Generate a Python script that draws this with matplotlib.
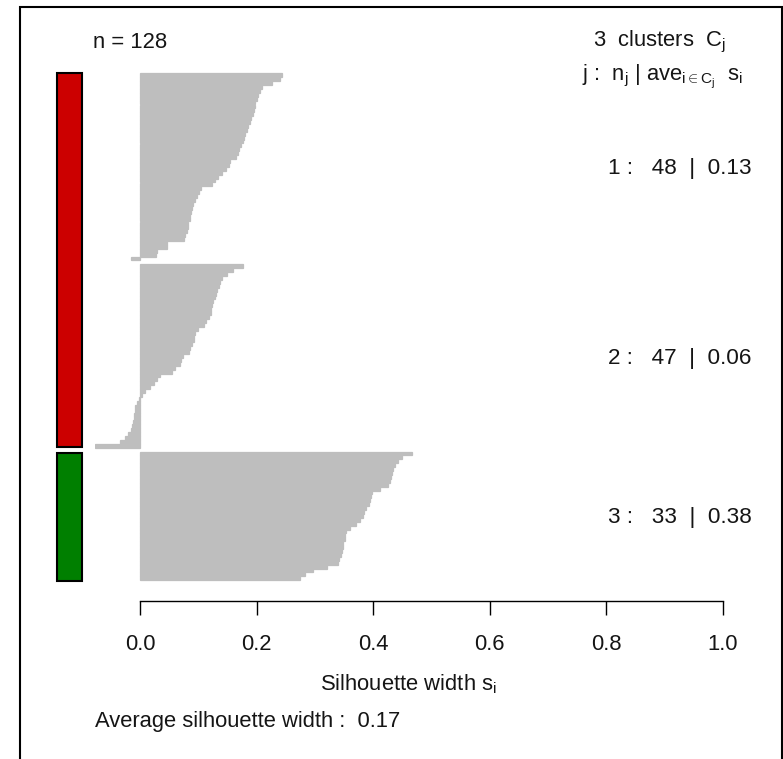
import numpy as np
import matplotlib
matplotlib.use("Agg")
import matplotlib.pyplot as plt
from matplotlib.patches import Rectangle
import matplotlib.transforms as mtransforms

plt.rcParams['font.family'] = ['Liberation Sans', 'DejaVu Sans']
plt.rcParams['mathtext.fontset'] = 'custom'
plt.rcParams['mathtext.rm'] = 'Liberation Sans'
plt.rcParams['mathtext.it'] = 'Liberation Sans:italic'
plt.rcParams['mathtext.bf'] = 'Liberation Sans:bold'

# ---------------- data ----------------
cluster_ids = [1, 2, 3]
sil_c1 = [0.243, 0.240, 0.226, 0.210, 0.205, 0.203, 0.200, 0.198, 0.197, 0.195,
          0.193, 0.190, 0.188, 0.186, 0.183, 0.180, 0.178, 0.176, 0.173, 0.170,
          0.168, 0.164, 0.155, 0.153, 0.148, 0.140, 0.134, 0.128, 0.124, 0.105,
          0.102, 0.097, 0.094, 0.091, 0.089, 0.088, 0.086, 0.085, 0.083, 0.082,
          0.080, 0.078, 0.075, 0.046, 0.046, 0.030, 0.028, -0.016]
sil_c2 = [0.177, 0.160, 0.149, 0.140, 0.137, 0.135, 0.132, 0.130, 0.128, 0.125,
          0.124, 0.122, 0.121, 0.119, 0.114, 0.110, 0.100, 0.095, 0.093, 0.092,
          0.090, 0.086, 0.084, 0.074, 0.071, 0.068, 0.060, 0.055, 0.034, 0.030,
          0.024, 0.018, 0.009, 0.004, -0.002, -0.005, -0.008, -0.009, -0.010,
          -0.011, -0.012, -0.013, -0.016, -0.020, -0.025, -0.035, -0.077]
sil_c3 = [0.466, 0.450, 0.443, 0.437, 0.434, 0.432, 0.430, 0.428, 0.426, 0.412,
          0.398, 0.397, 0.395, 0.392, 0.387, 0.385, 0.382, 0.377, 0.370, 0.360,
          0.354, 0.352, 0.351, 0.349, 0.348, 0.346, 0.344, 0.342, 0.340, 0.320,
          0.297, 0.283, 0.274]
cluster_ave = [0.13, 0.06, 0.38]
overall_ave = 0.17
side_colors = ['#CC0000', '#CC0000', '#007F00']   # side colour bar per cluster
x_ticks = [0.0, 0.2, 0.4, 0.6, 0.8, 1.0]
x_tick_labels = ['0.0', '0.2', '0.4', '0.6', '0.8', '1.0']

clusters = [sil_c1, sil_c2, sil_c3]
n_total = sum(len(c) for c in clusters)

# ---------------- figure ----------------
W, H = 783, 759
FS = 15.8
TXT = '#151515'
fig = plt.figure(figsize=(W / 100, H / 100), dpi=100)

def fx(px):
    return px / W

def fy(py):
    return 1 - py / H

# outer frame (clipped at bottom like the reference)
fig.patches.append(Rectangle((fx(20), fy(790)), fx(781.5) - fx(20), fy(7) - fy(790),
                             transform=fig.transFigure, fill=False,
                             edgecolor='black', linewidth=1.5, clip_on=False))

ax_left, ax_right, ax_top, ax_bottom = 95, 723, 60, 601
ax = fig.add_axes([fx(ax_left), fy(ax_bottom), fx(ax_right) - fx(ax_left),
                   fy(ax_top) - fy(ax_bottom)])

px_per_unit = (ax_right - 140)  # 0 at px 140, 1 at px 723
ax.set_xlim(-(140 - ax_left) / px_per_unit, 1.0)

slot_px = 3.9
first_top = 73.3
n_slots = n_total + len(clusters) - 1
ax.set_ylim(n_slots + (ax_bottom - (first_top + n_slots * slot_px)) / slot_px,
            -(first_top - ax_top) / slot_px)

# bars
starts = []
pos = 0
for vals in clusters:
    starts.append(pos)
    ys = np.arange(pos, pos + len(vals)) + 0.5
    ax.barh(ys, vals, height=1.0, left=0, color='#BEBEBE',
            edgecolor='#BEBEBE', linewidth=0.9)
    pos += len(vals) + 1

# side colour bars (group consecutive clusters with the same colour)
groups = []
for i, c in enumerate(side_colors):
    s, e = starts[i], starts[i] + len(clusters[i])
    if groups and groups[-1][0] == c:
        groups[-1][2] = e
    else:
        groups.append([c, s, e])
insets = [(0.0, -0.1), (0.35, 0.3)]
for (c, s, e), (a, b) in zip(groups, insets):
    ax.bar(-0.121, (e + b) - (s + a), bottom=s + a, width=0.044, color=c,
           edgecolor='black', linewidth=1.5, clip_on=False, align='center')

# cluster labels
trans = mtransforms.blended_transform_factory(fig.transFigure, ax.transData)
off = mtransforms.ScaledTranslation(0, -7.5 / 100, fig.dpi_scale_trans)
for i, vals in enumerate(clusters):
    mid = starts[i] + len(vals) / 2
    ax.text(fx(752), mid, f"{cluster_ids[i]} :   {len(vals)}  |  {cluster_ave[i]:.2f}",
            transform=trans + off, ha='right', va='baseline', fontsize=16.2,
            color=TXT)

# axis styling
for sp in ['top', 'right', 'left']:
    ax.spines[sp].set_visible(False)
ax.spines['bottom'].set_bounds(0, 1)
ax.spines['bottom'].set_linewidth(1.0)
ax.set_yticks([])
ax.set_xticks(x_ticks)
ax.set_xticklabels(x_tick_labels)
ax.tick_params(axis='x', length=10, width=1.0, pad=13.5, labelsize=FS,
               labelcolor=TXT)
ax.set_xlabel(r"Silhouette width $\mathrm{s_i}$", fontsize=FS, color=TXT)
ax.xaxis.label.set_va('baseline')
ax.xaxis.set_label_coords(0.5, -(690 - ax_bottom) / (ax_bottom - ax_top))
ax.patch.set_visible(False)

# header / footer texts
fig.text(fx(93), fy(48), f"n = {n_total}", ha='left', va='baseline',
         fontsize=FS, color=TXT)
fig.text(fx(726), fy(46.5), f"{len(clusters)}  clusters  " + r"$\mathrm{C_j}$",
         ha='right', va='baseline', fontsize=FS, color=TXT)
fig.text(fx(743), fy(79.5),
         r"j :  $\mathrm{n_j}$ | $\mathrm{ave_{i\in C_j}}$  $\mathrm{s_i}$",
         ha='right', va='baseline', fontsize=FS, color=TXT)
fig.text(fx(95), fy(727), f"Average silhouette width :  {overall_ave:.2f}",
         ha='left', va='baseline', fontsize=FS, color=TXT)

fig.savefig("out.png", dpi=100)
